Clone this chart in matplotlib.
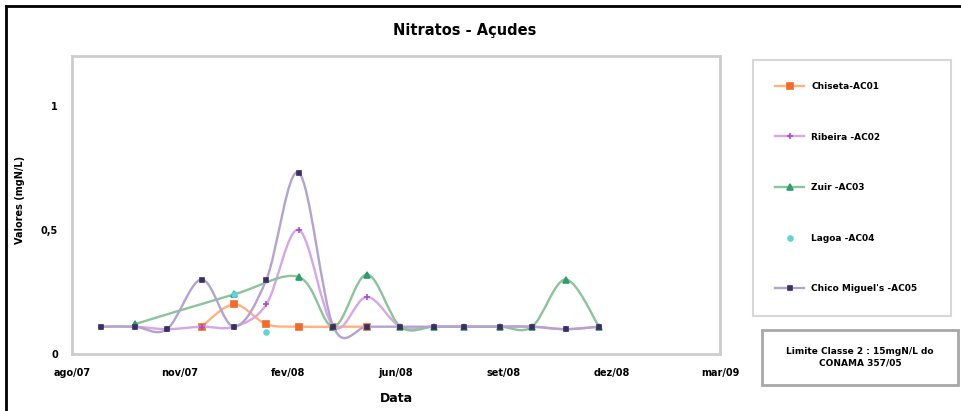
#importing
import matplotlib.pyplot as plt
import matplotlib.dates as mdates
import numpy as np
from matplotlib.path import Path
from matplotlib.patches import PathPatch, Rectangle
from matplotlib.lines import Line2D

################################################
# data (mgN/L), one sample per month

dates = ["2007-09-04", "2007-10-05", "2007-11-04", "2007-12-06", "2008-01-05",
         "2008-02-04", "2008-03-05", "2008-04-06", "2008-05-07", "2008-06-07",
         "2008-07-08", "2008-08-05", "2008-09-07", "2008-10-07", "2008-11-07",
         "2008-12-08"]

nan = np.nan
chiseta = [nan, nan, nan, 0.11, 0.20, 0.12, 0.11, 0.11, 0.11, nan, nan, nan, nan, nan, nan, nan]
ribeira = [0.11, 0.11, 0.10, 0.11, 0.11, 0.20, 0.50, 0.11, 0.23, 0.11, 0.11, 0.11, 0.11, 0.11, 0.10, 0.11]
zuir = [nan, 0.12, nan, nan, 0.24, nan, 0.31, 0.11, 0.32, 0.11, 0.11, 0.11, 0.11, 0.11, 0.30, 0.11]
lagoa = [nan, nan, nan, nan, 0.24, 0.09, nan, nan, nan, nan, nan, nan, nan, nan, nan, nan]
chico = [0.11, 0.11, 0.10, 0.30, 0.11, 0.30, 0.73, 0.11, 0.11, 0.11, 0.11, 0.11, 0.11, 0.11, 0.10, 0.11]

labels = ["Chiseta-AC01", "Ribeira -AC02", "Zuir -AC03", "Lagoa -AC04", "Chico Miguel's -AC05"]

tick_labels = ["ago/07", "nov/07", "fev/08", "jun/08", "set/08", "dez/08", "mar/09"]
x_start = "2007-08-08"
x_step = 100  # days between labels

################################################

x = mdates.date2num(np.array(dates, dtype="datetime64[D]"))
x0 = mdates.date2num(np.datetime64(x_start))


def smooth_path(xs, ys):
    # excel-like smoothed line (bezier through every point)
    pts = np.column_stack([xs, ys])
    n = len(pts)
    verts = [pts[0]]
    codes = [Path.MOVETO]
    for i in range(n - 1):
        p0 = pts[i - 1] if i > 0 else pts[i]
        p1 = pts[i]
        p2 = pts[i + 1]
        p3 = pts[i + 2] if i + 2 < n else pts[i + 1]
        verts += [p1 + (p2 - p0) / 6, p2 - (p3 - p1) / 6, p2]
        codes += [Path.CURVE4] * 3
    return Path(verts, codes)


fig = plt.figure(figsize=(9.61, 4.11), dpi=100)
ax = fig.add_axes([72/961, 1-354/411, 648/961, 298/411])


def draw_series(vals, line_color, marker, marker_color, ms, z, line=True):
    v = np.array(vals, dtype=float)
    ok = ~np.isnan(v)
    xs, ys = x[ok], v[ok]
    if line:
        ax.add_patch(PathPatch(smooth_path(xs, ys), fill=False, edgecolor=line_color,
                               lw=1.7, zorder=z, capstyle="round", joinstyle="round"))
    ax.plot(xs, ys, ls="none", marker=marker, color=marker_color, ms=ms, mew=1.2, zorder=z + 0.5)
    return Line2D([], [], color=line_color if line else "none", lw=1.7, marker=marker,
                  markerfacecolor=marker_color, markeredgecolor=marker_color, ms=ms, mew=1.2)


handles = [
    draw_series(chiseta, "#FFB27F", "s", "#F26B2A", 4, 2),
    draw_series(ribeira, "#D6A6E6", "+", "#A050C8", 5, 3),
    draw_series(zuir, "#8CC49A", "^", "#2E9E6E", 4, 4),
    draw_series(lagoa, "#33CCCC", "o", "#5FD3DA", 3.5, 5, line=False),
    draw_series(chico, "#B3A3CF", "s", "#3A3060", 3.5, 6),
]

ax.set_xlim(x0, x0 + 6 * x_step)
ax.set_ylim(0, 1.2)
ax.set_xticks(x0 + np.arange(7) * x_step)
ax.set_xticklabels(tick_labels)
ax.set_yticks([0, 0.5, 1])
ax.set_yticklabels(["0", "0,5", "1"])
ax.tick_params(length=0, labelsize=7, pad=10)
for lab in ax.get_xticklabels() + ax.get_yticklabels():
    lab.set_fontweight("bold")
for s in ax.spines.values():
    s.set_color("#CDCDCD")
    s.set_linewidth(2)
ax.grid(False)

# titles
fig.text(465/961, 1-30/411, "Nitratos - Açudes", ha="center", va="center", fontsize=10.5, fontweight="bold")
fig.text(20/961, 1-200/411, "Valores (mgN/L)", ha="center", va="center", rotation=90, fontsize=7, fontweight="bold")
fig.text(396/961, 1-398/411, "Data", ha="center", va="center", fontsize=9, fontweight="bold")

# legend on the right
leg_h = 0.1
leg = fig.legend(handles, labels, loc="upper left",
                 bbox_to_anchor=(748/961, 1-55/411-leg_h, 208/961, leg_h),
                 mode="expand", prop={"weight": "bold", "size": 6.5}, labelspacing=4.6,
                 handlelength=3.2, borderpad=2.5, fancybox=False, edgecolor="#CDCDCD")
leg.get_frame().set_linewidth(1.5)

# note box
fig.add_artist(Rectangle((762/961, 1-385/411), 196/961, 55/411, transform=fig.transFigure,
                         fill=False, edgecolor="#A8A8A8", lw=2))
fig.text(860/961, 1-357/411, "Limite Classe 2 : 15mgN/L do\nCONAMA 357/05", ha="center", va="center",
         fontsize=6.5, fontweight="bold", linespacing=1.3)

# outer frame (top and left edges show)
fig.add_artist(Line2D([6/961, 6/961], [0, 1-6/411], transform=fig.transFigure, color="black", lw=2))
fig.add_artist(Line2D([6/961, 1], [1-6/411, 1-6/411], transform=fig.transFigure, color="black", lw=2))

plt.savefig("out.png", dpi=100)
